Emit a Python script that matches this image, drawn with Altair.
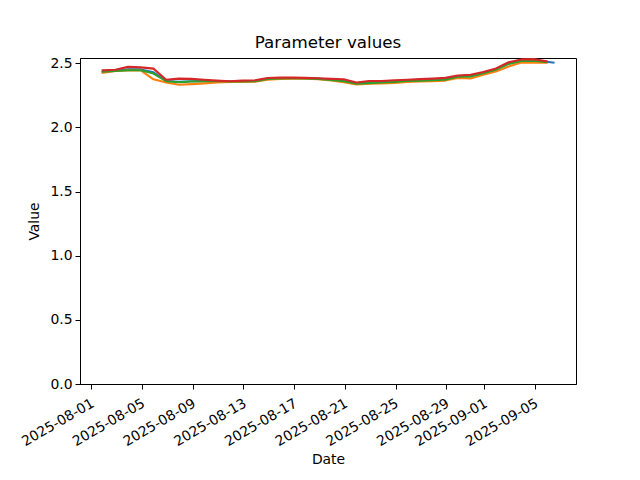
import altair as alt
import pandas as pd

# ---- data ----
series_names = ["s0", "s1", "s2", "s3"]
series_colors = ["#1f77b4", "#ff7f0e", "#2ca02c", "#d62728"]

# daily timestamps (evening of 2025-08-01 .. 2025-09-05)
times_main = [t.strftime("%Y-%m-%dT%H:%M:%S") for t in pd.date_range("2025-08-01T22:00:00", periods=35 + 1, freq="D")]
times_blue = times_main + ["2025-09-06T11:00:00"]

red = [2.445, 2.450, 2.472, 2.468, 2.458, 2.372, 2.380, 2.378, 2.372, 2.365,
       2.360, 2.365, 2.368, 2.385, 2.388, 2.388, 2.386, 2.383, 2.378, 2.375,
       2.350, 2.362, 2.362, 2.368, 2.372, 2.376, 2.380, 2.386, 2.405, 2.410,
       2.432, 2.460, 2.508, 2.530, 2.532, 2.515]
green = [2.435, 2.440, 2.445, 2.445, 2.420, 2.360, 2.352, 2.358, 2.360, 2.360,
         2.358, 2.358, 2.360, 2.378, 2.382, 2.383, 2.382, 2.378, 2.370, 2.360,
         2.340, 2.345, 2.350, 2.355, 2.362, 2.365, 2.368, 2.372, 2.395, 2.397,
         2.422, 2.450, 2.495, 2.518, 2.520, 2.510]
orange = [2.425, 2.440, 2.443, 2.445, 2.375, 2.350, 2.332, 2.337, 2.343, 2.350,
          2.355, 2.355, 2.357, 2.372, 2.377, 2.380, 2.380, 2.375, 2.365, 2.352,
          2.335, 2.340, 2.342, 2.347, 2.355, 2.358, 2.360, 2.365, 2.385, 2.382,
          2.410, 2.435, 2.475, 2.505, 2.505, 2.505]
blue = [2.435, 2.442, 2.452, 2.452, 2.430, 2.362, 2.356, 2.360, 2.362, 2.360,
        2.358, 2.360, 2.362, 2.380, 2.384, 2.385, 2.383, 2.380, 2.372, 2.362,
        2.342, 2.350, 2.352, 2.357, 2.364, 2.368, 2.372, 2.376, 2.398, 2.400,
        2.425, 2.452, 2.498, 2.520, 2.522, 2.512, 2.505]

tick_dates = ["2025-08-01", "2025-08-05", "2025-08-09", "2025-08-13", "2025-08-17",
              "2025-08-21", "2025-08-25", "2025-08-29", "2025-09-01", "2025-09-05"]
y_ticks = [0.0, 0.5, 1.0, 1.5, 2.0, 2.5]

rows = []
for name, ts, vals in [("s0", times_blue, blue), ("s1", times_main, orange),
                       ("s2", times_main, green), ("s3", times_main, red)]:
    for t, v in zip(ts, vals):
        rows.append({"Date": t, "Value": v, "series": name})
df = pd.DataFrame(rows)

FONT = "DejaVu Sans"

x_enc = alt.X(
    "Date:T",
    title="Date",
    scale=alt.Scale(domain=[alt.DateTime(year=2025, month=7, date=31, hours=3),
                            alt.DateTime(year=2025, month=9, date=8, hours=5, minutes=30)],
                    nice=False),
    axis=alt.Axis(
        values=[alt.DateTime(year=int(d[:4]), month=int(d[5:7]), date=int(d[8:10])) for d in tick_dates],
        format="%Y-%m-%d",
        labelAngle=330,
        labelAlign="right",
        labelBaseline="top",
        labelPadding=7,
        labelOffset=-2,
        labelOverlap=False,
        labelBound=False,
        grid=False,
        tickSize=5,
        titlePadding=4,
    ),
)
y_enc = alt.Y(
    "Value:Q",
    title="Value",
    scale=alt.Scale(domain=[0, 2.541], nice=False, zero=False),
    axis=alt.Axis(values=y_ticks, format=".1f", grid=False, tickSize=5, titlePadding=8,
                  labelPadding=3, labelOverlap=False),
)

layers = []
for name, color in zip(series_names, series_colors):
    layers.append(
        alt.Chart(df)
        .transform_filter(alt.datum.series == name)
        .mark_line(color=color, strokeWidth=2.1, strokeJoin="round", strokeCap="square", clip=True)
        .encode(x=x_enc, y=y_enc)
    )

chart = (
    alt.layer(*layers)
    .properties(
        width=496,
        height=326,
        background="white",
        title=alt.TitleParams("Parameter values", fontSize=16.7, font=FONT, fontWeight="normal",
                              anchor="middle", offset=5, color="black"),
        autosize=alt.AutoSizeParams(type="none"),
        padding={"left": 72, "top": 50, "right": 56, "bottom": 90},
    )
    .configure_view(stroke="black", strokeWidth=1)
    .configure_axis(
        domainColor="black",
        tickColor="black",
        labelColor="black",
        titleColor="black",
        labelFont=FONT,
        titleFont=FONT,
        labelFontSize=13.9,
        titleFontSize=13.9,
        titleFontWeight="normal",
        domainWidth=1,
        tickWidth=1,
    )
)

chart.save("out.html", embed_options={"renderer": "svg", "actions": False})
